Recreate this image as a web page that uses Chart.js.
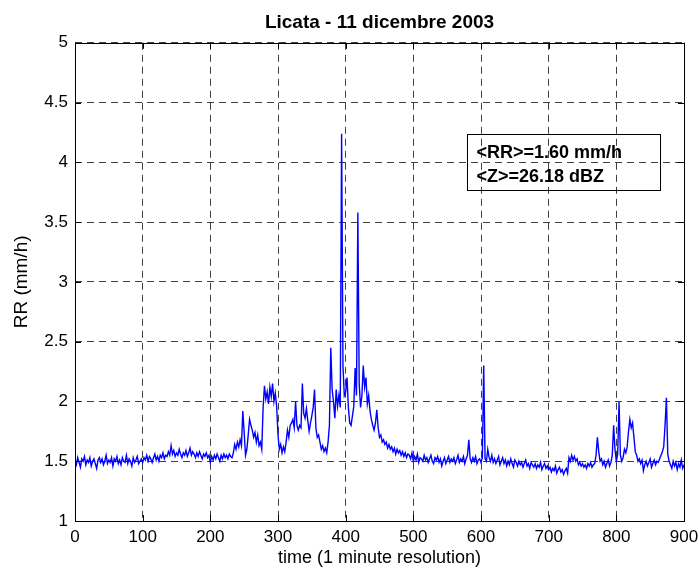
<!DOCTYPE html>
<html>
<head>
<meta charset="utf-8">
<title>Licata - 11 dicembre 2003</title>
<script src="https://cdn.jsdelivr.net/npm/chart.js@4.4.1/dist/chart.umd.min.js"></script>
<style>
  html, body { margin: 0; padding: 0; background: #fff; }
  #wrap { width: 699px; height: 569px; }
</style>
</head>
<body>
<div id="wrap"><canvas id="rrChart" width="699" height="569"></canvas></div>
<script>
// rain rate (mm/h), one sample every 2 minutes from minute 0 to 900
const STEP = 2;
const rainRate = [
  // 0 - 98
  1.50,1.47,1.53,1.49,1.45,1.52,1.50,1.54,1.47,1.51,
  1.49,1.53,1.46,1.50,1.52,1.48,1.44,1.51,1.53,1.49,
  1.52,1.47,1.50,1.55,1.48,1.51,1.49,1.53,1.46,1.52,
  1.50,1.54,1.48,1.51,1.47,1.53,1.50,1.49,1.55,1.48,
  1.52,1.50,1.46,1.53,1.49,1.51,1.54,1.48,1.50,1.52,
  // 100 - 198
  1.49,1.53,1.51,1.55,1.50,1.54,1.52,1.49,1.53,1.56,
  1.51,1.54,1.50,1.55,1.53,1.57,1.52,1.55,1.54,1.58,
  1.55,1.63,1.56,1.59,1.54,1.57,1.55,1.60,1.56,1.53,
  1.57,1.55,1.59,1.54,1.57,1.61,1.55,1.58,1.56,1.53,
  1.57,1.54,1.58,1.55,1.52,1.56,1.54,1.57,1.53,1.55,
  // 200 - 298
  1.49,1.54,1.51,1.55,1.52,1.56,1.53,1.50,1.55,1.52,
  1.56,1.53,1.55,1.52,1.56,1.54,1.53,1.57,1.64,1.60,
  1.66,1.62,1.68,1.63,1.92,1.74,1.55,1.60,1.72,1.85,
  1.80,1.76,1.70,1.74,1.66,1.72,1.63,1.66,1.60,1.95,
  2.13,2.02,2.08,1.98,2.12,2.04,2.15,2.00,2.07,1.96,
  // 300 - 398
  1.72,1.60,1.64,1.57,1.62,1.58,1.66,1.76,1.70,1.80,
  1.82,1.85,1.78,2.00,1.80,1.76,1.80,1.78,2.15,1.90,
  1.86,1.94,1.84,1.75,1.82,1.88,1.95,2.10,1.78,1.70,
  1.72,1.66,1.60,1.63,1.58,1.61,1.57,1.66,1.80,2.45,
  2.10,2.00,1.86,2.10,1.96,2.05,1.95,4.24,2.30,2.05,
  // 400 - 498
  2.08,2.20,1.95,1.82,1.80,1.88,1.96,2.28,2.05,3.58,
  2.15,1.95,2.05,2.30,2.12,2.20,1.98,2.05,1.92,1.85,
  1.80,1.76,1.82,1.93,1.78,1.70,1.72,1.66,1.68,1.64,
  1.66,1.61,1.64,1.60,1.62,1.58,1.61,1.56,1.60,1.57,
  1.59,1.55,1.58,1.54,1.57,1.53,1.56,1.55,1.52,1.57,
  // 500 - 598
  1.50,1.54,1.51,1.56,1.49,1.53,1.52,1.50,1.55,1.51,
  1.53,1.49,1.52,1.55,1.50,1.48,1.53,1.51,1.54,1.49,
  1.52,1.46,1.50,1.53,1.48,1.51,1.54,1.49,1.52,1.50,
  1.53,1.48,1.51,1.55,1.49,1.52,1.50,1.54,1.48,1.52,
  1.55,1.68,1.52,1.49,1.53,1.50,1.54,1.48,1.51,1.52,
  // 600 - 698
  1.49,1.53,2.30,1.52,1.50,1.60,1.53,1.50,1.55,1.49,
  1.52,1.48,1.51,1.54,1.47,1.50,1.53,1.48,1.51,1.46,
  1.50,1.47,1.52,1.48,1.45,1.51,1.49,1.46,1.50,1.47,
  1.49,1.45,1.48,1.51,1.46,1.48,1.44,1.49,1.47,1.45,
  1.48,1.44,1.47,1.45,1.49,1.43,1.46,1.48,1.44,1.46,
  // 700 - 798
  1.43,1.45,1.41,1.44,1.42,1.46,1.40,1.43,1.45,1.41,
  1.43,1.39,1.42,1.44,1.40,1.53,1.50,1.55,1.51,1.54,
  1.50,1.52,1.47,1.49,1.46,1.48,1.45,1.47,1.44,1.48,
  1.46,1.49,1.45,1.47,1.48,1.55,1.70,1.58,1.50,1.52,
  1.47,1.50,1.45,1.48,1.51,1.46,1.49,1.55,1.80,1.60,
  // 800 - 900
  1.50,1.56,2.00,1.55,1.50,1.53,1.60,1.57,1.62,1.75,
  1.85,1.78,1.82,1.70,1.58,1.55,1.50,1.52,1.48,1.51,
  1.42,1.47,1.50,1.46,1.49,1.52,1.45,1.48,1.51,1.47,
  1.50,1.49,1.52,1.55,1.58,1.62,1.80,2.03,1.56,1.50,
  1.47,1.44,1.50,1.46,1.49,1.43,1.48,1.45,1.51,1.44,
  1.47
];
const minutes = rainRate.map((v, i) => i * STEP);

const xTicks = [0, 100, 200, 300, 400, 500, 600, 700, 800, 900];
const yTicks = [1, 1.5, 2, 2.5, 3, 3.5, 4, 4.5, 5];
const statLines = ['<RR>=1.60 mm/h', '<Z>=26.18 dBZ'];

const FONT = 'Liberation Sans, Arial, Helvetica, sans-serif';

// axes box with short inward ticks on all four sides
const frameBox = {
  id: 'frameBox',
  afterDraw(chart) {
    const { ctx, chartArea: a, scales: { x, y } } = chart;
    ctx.save();
    ctx.strokeStyle = '#000';
    ctx.lineWidth = 1;
    ctx.beginPath();
    xTicks.forEach(v => {
      const px = Math.round(x.getPixelForValue(v)) + 0.5;
      ctx.moveTo(px, a.bottom); ctx.lineTo(px, a.bottom - 6);
      ctx.moveTo(px, a.top); ctx.lineTo(px, a.top + 6);
    });
    yTicks.forEach(v => {
      const py = Math.round(y.getPixelForValue(v)) + 0.5;
      ctx.moveTo(a.left, py); ctx.lineTo(a.left + 6, py);
      ctx.moveTo(a.right, py); ctx.lineTo(a.right - 6, py);
    });
    ctx.stroke();
    ctx.strokeRect(Math.round(a.left) + 0.5, Math.round(a.top) + 0.5,
      Math.round(a.right - a.left), Math.round(a.bottom - a.top));
    ctx.restore();
  }
};

// text box with the mean values
const statBox = {
  id: 'statBox',
  afterDraw(chart) {
    const { ctx, scales: { x, y } } = chart;
    const left = Math.round(x.getPixelForValue(579)) + 0.5;
    const right = Math.round(x.getPixelForValue(864)) + 0.5;
    const top = Math.round(y.getPixelForValue(4.24)) + 0.5;
    const bottom = Math.round(y.getPixelForValue(3.77)) + 0.5;
    ctx.save();
    ctx.strokeStyle = '#000';
    ctx.lineWidth = 1;
    ctx.strokeRect(left, top, right - left, bottom - top);
    ctx.fillStyle = '#000';
    ctx.font = 'bold 18px ' + FONT;
    ctx.textBaseline = 'middle';
    ctx.textAlign = 'left';
    ctx.fillText(statLines[0], left + 9, top + 19);
    ctx.fillText(statLines[1], left + 9, top + 43);
    ctx.restore();
  }
};

const ctx = document.getElementById('rrChart').getContext('2d');
const rrChart = new Chart(ctx, {
  type: 'line',
  data: {
    datasets: [{
      data: minutes.map((m, i) => ({ x: m, y: rainRate[i] })),
      borderColor: '#0000ff',
      borderWidth: 1.4,
      pointRadius: 0,
      tension: 0,
      fill: false
    }]
  },
  options: {
    responsive: false,
    animation: false,
    devicePixelRatio: 1,
    layout: { padding: { left: 0, right: 15, top: 0, bottom: 0 } },
    plugins: {
      legend: { display: false },
      tooltip: { enabled: false },
      title: {
        display: true,
        fullSize: false,
        text: 'Licata - 11 dicembre 2003',
        color: '#000',
        font: { family: FONT, size: 19, weight: 'bold' },
        padding: { top: 11, bottom: 9 }
      }
    },
    scales: {
      x: {
        type: 'linear',
        min: 0,
        max: 900,
        afterBuildTicks: s => { s.ticks = xTicks.map(v => ({ value: v })); },
        afterFit: s => { s.height = 48; s.paddingLeft = 0; s.paddingRight = 0; },
        grid: { color: 'rgba(0,0,0,0.75)', lineWidth: 1, drawTicks: false },
        border: { display: false, dash: [7, 5] },
        ticks: { color: '#000', padding: 6, maxRotation: 0, font: { family: FONT, size: 17 } },
        title: {
          display: true,
          text: 'time (1 minute resolution)',
          color: '#000',
          font: { family: FONT, size: 18 },
          padding: { top: 0, bottom: 0 }
        }
      },
      y: {
        min: 1,
        max: 5,
        afterBuildTicks: s => { s.ticks = yTicks.map(v => ({ value: v })); },
        afterFit: s => { s.width = 75; s.paddingTop = 0; s.paddingBottom = 0; },
        grid: { color: 'rgba(0,0,0,0.75)', lineWidth: 1, drawTicks: false },
        border: { display: false, dash: [7, 5] },
        ticks: {
          color: '#000',
          padding: 7,
          font: { family: FONT, size: 17 },
          callback: v => String(v)
        },
        title: {
          display: true,
          text: 'RR (mm/h)',
          color: '#000',
          font: { family: FONT, size: 19 },
          padding: { top: 10, bottom: 0 }
        }
      }
    }
  },
  plugins: [frameBox, statBox]
});
</script>
</body>
</html>
